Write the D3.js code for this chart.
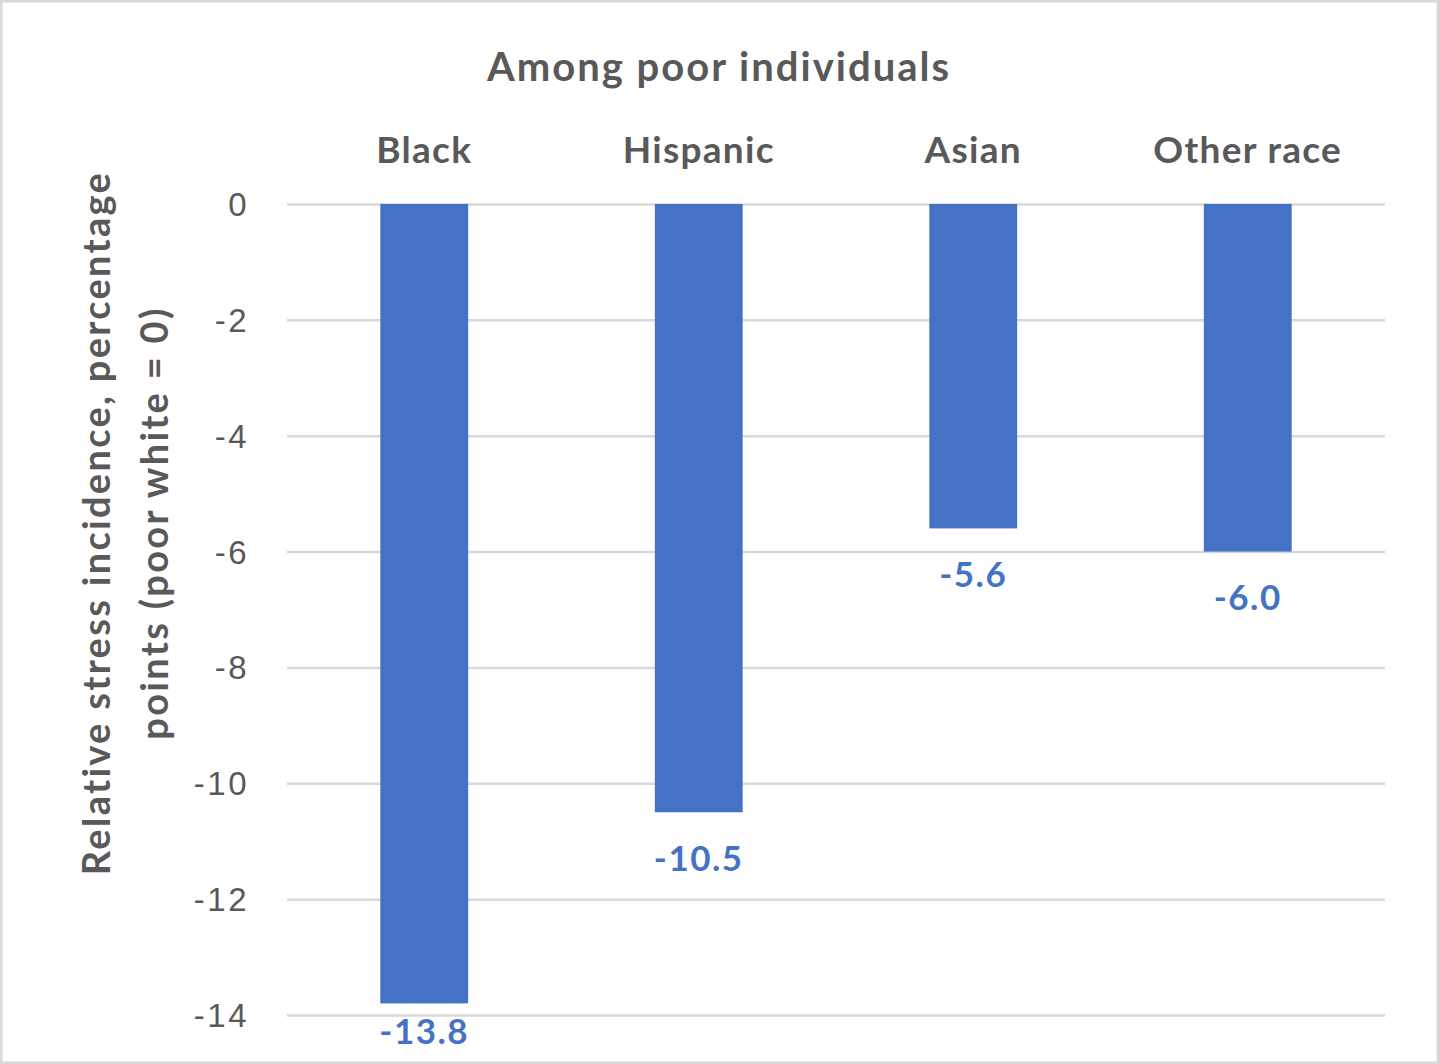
<!DOCTYPE html>
<html>
<head>
<meta charset="utf-8">
<script src="https://cdn.jsdelivr.net/npm/d3@7"></script>
<style>
  body { margin: 0; background: #fff; }
  svg { display: block; font-family: Lato, "Open Sans", sans-serif; }
</style>
</head>
<body>
<svg id="chart" width="1439" height="1064"></svg>
<script>
const categories = ['Black', 'Hispanic', 'Asian', 'Other race'];
const values = [-13.8, -10.5, -5.6, -6.0];
const yTicks = [0, -2, -4, -6, -8, -10, -12, -14];
const title = 'Among poor individuals';
const yLabelLines = ['Relative stress incidence, percentage', 'points (poor white = 0)'];

const width = 1439, height = 1064;
const margin = {top: 204, right: 54, bottom: 49, left: 287};

const svg = d3.select('#chart');

// outer frame
svg.append('rect')
  .attr('x', 1).attr('y', 1)
  .attr('width', width - 2).attr('height', height - 2)
  .attr('fill', '#fff')
  .attr('stroke', '#d9d9d9')
  .attr('stroke-width', 3);

const x = d3.scaleBand()
  .domain(categories)
  .range([margin.left, width - margin.right])
  .paddingInner(0.68)
  .paddingOuter(0.34);

const y = d3.scaleLinear()
  .domain([0, -14])
  .range([margin.top, 1015]);

// gridlines
const yAxis = d3.axisLeft(y)
  .tickValues(yTicks)
  .tickSize(-(width - margin.right - margin.left))
  .tickPadding(38)
  .tickFormat(d3.format('d'));

const yAxisG = svg.append('g')
  .attr('class', 'y-axis')
  .attr('transform', `translate(${margin.left},0)`)
  .call(yAxis);

yAxisG.select('.domain').remove();
yAxisG.selectAll('.tick line')
  .attr('stroke', '#d9d9d9')
  .attr('stroke-width', 2.5);
yAxisG.selectAll('.tick text')
  .attr('fill', '#595959')
  .attr('font-size', 33)
  .attr('letter-spacing', 2.5)
  .attr('dy', '0.35em')
  .text(d => d === 0 ? '0' : '-' + Math.abs(d));

// bars
svg.selectAll('.bar')
  .data(categories)
  .enter()
  .append('rect')
    .attr('class', 'bar')
    .attr('x', d => x(d))
    .attr('y', y(0))
    .attr('width', x.bandwidth())
    .attr('height', (d, i) => y(values[i]) - y(0))
    .attr('fill', '#4472c4');

// value labels
svg.selectAll('.value-label')
  .data(categories)
  .enter()
  .append('text')
    .attr('class', 'value-label')
    .attr('x', d => x(d) + x.bandwidth() / 2)
    .attr('y', (d, i) => Math.min(y(values[i]) + 46, 1032))
    .attr('dy', '0.35em')
    .attr('text-anchor', 'middle')
    .attr('font-size', 35)
    .attr('letter-spacing', 1.5)
    .attr('font-weight', 'bold')
    .attr('fill', '#4472c4')
    .text((d, i) => values[i].toFixed(1));

// category labels on top
svg.selectAll('.cat-label')
  .data(categories)
  .enter()
  .append('text')
    .attr('class', 'cat-label')
    .attr('x', d => x(d) + x.bandwidth() / 2)
    .attr('y', 150)
    .attr('dy', '0.35em')
    .attr('text-anchor', 'middle')
    .attr('font-size', 37)
    .attr('letter-spacing', 1.3)
    .attr('font-weight', 'bold')
    .attr('fill', '#595959')
    .text(d => d);

// title
svg.append('text')
  .attr('x', 719)
  .attr('y', 67)
  .attr('dy', '0.35em')
  .attr('text-anchor', 'middle')
  .attr('font-size', 40)
  .attr('letter-spacing', 2)
  .attr('font-weight', 'bold')
  .attr('fill', '#595959')
  .text(title);

// y axis title
const yTitle = svg.append('text')
  .attr('transform', 'translate(97,523) rotate(-90)')
  .attr('text-anchor', 'middle')
  .attr('font-size', 38)
  .attr('letter-spacing', 2.3)
  .attr('font-weight', 'bold')
  .attr('fill', '#595959');

yTitle.selectAll('tspan')
  .data(yLabelLines)
  .enter()
  .append('tspan')
    .attr('x', 0)
    .attr('y', (d, i) => i * 58)
    .attr('dy', '0.35em')
    .text(d => d);
</script>
</body>
</html>
